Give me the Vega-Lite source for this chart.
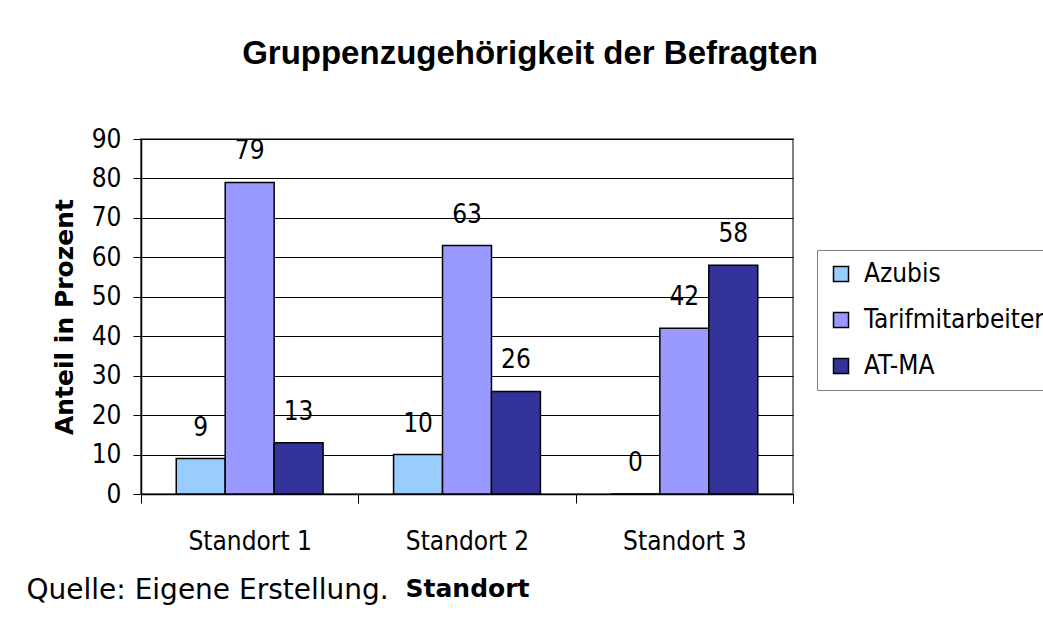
{
  "$schema": "https://vega.github.io/schema/vega-lite/v6.json",
  "width": 652,
  "height": 355,
  "autosize": {"type": "none"},
  "padding": {"left": 141, "top": 139, "right": 250, "bottom": 134},
  "background": "white",
  "config": {
    "view": {"stroke": "#808080", "strokeWidth": 2},
    "font": "DejaVu Sans Condensed"
  },
  "title": {
    "text": "Gruppenzugehörigkeit der Befragten",
    "font": "Liberation Sans",
    "fontSize": 33,
    "fontWeight": "bold",
    "color": "black",
    "anchor": "middle",
    "frame": "group",
    "dx": 63,
    "offset": 55
  },
  "data": {
    "values": [
      {"Standort": "Standort 1", "Gruppe": "Azubis", "Anteil": 9},
      {"Standort": "Standort 1", "Gruppe": "Tarifmitarbeiter", "Anteil": 79},
      {"Standort": "Standort 1", "Gruppe": "AT-MA", "Anteil": 13},
      {"Standort": "Standort 2", "Gruppe": "Azubis", "Anteil": 10},
      {"Standort": "Standort 2", "Gruppe": "Tarifmitarbeiter", "Anteil": 63},
      {"Standort": "Standort 2", "Gruppe": "AT-MA", "Anteil": 26},
      {"Standort": "Standort 3", "Gruppe": "Azubis", "Anteil": 0},
      {"Standort": "Standort 3", "Gruppe": "Tarifmitarbeiter", "Anteil": 42},
      {"Standort": "Standort 3", "Gruppe": "AT-MA", "Anteil": 58}
    ]
  },
  "layer": [
    {
      "mark": {"type": "bar", "stroke": "black", "strokeWidth": 1.5},
      "encoding": {
        "x": {
          "field": "Standort",
          "type": "nominal",
          "scale": {"paddingInner": 0, "paddingOuter": 0},
          "axis": {
            "orient": "bottom",
            "title": "Standort",
            "titleFont": "DejaVu Sans",
            "titleFontWeight": "bold",
            "titleFontSize": 25,
            "titleColor": "black",
            "titlePadding": 22,
            "labelAngle": 0,
            "labelFont": "DejaVu Sans Condensed",
            "labelFontSize": 26,
            "labelColor": "black",
            "labelPadding": 25,
            "tickSize": 9,
            "tickBand": "extent",
            "tickColor": "black",
            "domainColor": "black",
            "domainWidth": 1.5,
            "grid": false
          }
        },
        "xOffset": {
          "field": "Gruppe",
          "type": "nominal",
          "sort": ["Azubis", "Tarifmitarbeiter", "AT-MA"],
          "scale": {"paddingInner": 0, "paddingOuter": 0.72}
        },
        "y": {
          "field": "Anteil",
          "type": "quantitative",
          "scale": {"domain": [0, 90], "nice": false},
          "axis": {
            "values": [0, 10, 20, 30, 40, 50, 60, 70, 80, 90],
            "labelOverlap": false,
            "title": "Anteil in Prozent",
            "titleFont": "DejaVu Sans",
            "titleFontWeight": "bold",
            "titleFontSize": 25,
            "titleColor": "black",
            "titlePadding": 14,
            "labelFont": "DejaVu Sans Condensed",
            "labelFontSize": 26,
            "labelColor": "black",
            "labelPadding": 12,
            "tickSize": 8,
            "tickColor": "black",
            "domainColor": "black",
            "domainWidth": 1.5,
            "gridColor": "black",
            "gridWidth": 1
          }
        },
        "color": {
          "field": "Gruppe",
          "type": "nominal",
          "sort": ["Azubis", "Tarifmitarbeiter", "AT-MA"],
          "scale": {
            "domain": ["Azubis", "Tarifmitarbeiter", "AT-MA"],
            "range": ["#99CCFF", "#9999FF", "#333399"]
          },
          "legend": {
            "orient": "none",
            "legendX": 676,
            "legendY": 111,
            "title": null,
            "strokeColor": "#808080",
            "fillColor": "white",
            "padding": 11,
            "labelFont": "DejaVu Sans Condensed",
            "labelFontSize": 26,
            "labelColor": "black",
            "labelOffset": 10,
            "labelLimit": 500,
            "symbolType": "square",
            "symbolSize": 225,
            "symbolStrokeColor": "black",
            "symbolStrokeWidth": 1.5,
            "symbolOpacity": 1,
            "rowPadding": 20
          }
        }
      }
    },
    {
      "mark": {
        "type": "text",
        "baseline": "alphabetic",
        "dy": -23,
        "font": "DejaVu Sans Condensed",
        "fontSize": 26,
        "color": "black"
      },
      "encoding": {
        "x": {
          "field": "Standort",
          "type": "nominal",
          "scale": {"paddingInner": 0, "paddingOuter": 0},
          "axis": null
        },
        "xOffset": {
          "field": "Gruppe",
          "type": "nominal",
          "sort": ["Azubis", "Tarifmitarbeiter", "AT-MA"],
          "scale": {"paddingInner": 0, "paddingOuter": 0.72}
        },
        "y": {
          "field": "Anteil",
          "type": "quantitative",
          "scale": {"domain": [0, 90], "nice": false},
          "axis": {
            "values": [0, 10, 20, 30, 40, 50, 60, 70, 80, 90],
            "labelOverlap": false,
            "title": "Anteil in Prozent",
            "titleFont": "DejaVu Sans",
            "titleFontWeight": "bold",
            "titleFontSize": 25,
            "titleColor": "black",
            "titlePadding": 14,
            "labelFont": "DejaVu Sans Condensed",
            "labelFontSize": 26,
            "labelColor": "black",
            "labelPadding": 12,
            "tickSize": 8,
            "tickColor": "black",
            "domainColor": "black",
            "domainWidth": 1.5,
            "gridColor": "black",
            "gridWidth": 1
          }
        },
        "text": {"field": "Anteil", "type": "quantitative"}
      }
    },
    {
      "mark": {"type": "rule", "opacity": 0},
      "encoding": {
        "x": {
          "field": "Standort",
          "type": "nominal",
          "axis": {
            "orient": "bottom",
            "title": "Quelle: Eigene Erstellung.",
            "titleFont": "DejaVu Sans",
            "titleFontWeight": "normal",
            "titleFontSize": 28,
            "titleColor": "black",
            "titleAlign": "left",
            "titleAnchor": "start",
            "titleBaseline": "alphabetic",
            "titleX": -115,
            "titleY": 104,
            "labels": false,
            "ticks": false,
            "domain": false,
            "grid": false
          }
        }
      }
    }
  ],
  "resolve": {"scale": {"x": "independent"}, "axis": {"x": "independent"}}
}
